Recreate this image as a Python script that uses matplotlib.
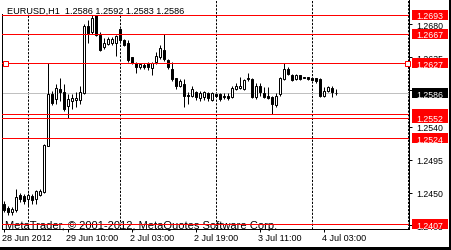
import matplotlib
matplotlib.use("Agg")
import matplotlib.pyplot as plt
import matplotlib.transforms as mtransforms
from matplotlib.patches import Rectangle
import numpy as np

plt.rcParams['font.family'] = ['Liberation Sans', 'DejaVu Sans']

# ==========================
# DATA  (EURUSD H1, bar 0 = 28 Jun 2012 18:00)
# ==========================

opens = [1.2435, 1.2429, 1.2423, 1.2426, 1.2447, 1.2445, 1.2441, 1.2445, 1.2441, 1.2447,
         1.2451, 1.2514, 1.2585, 1.2578, 1.2592, 1.2588, 1.2568, 1.2575, 1.2577, 1.2577,
         1.2586, 1.2678, 1.2669, 1.2692, 1.2665, 1.2649, 1.2653, 1.2654, 1.2655, 1.2673,
         1.2658, 1.2655, 1.2635, 1.2627, 1.2621, 1.2624, 1.2627, 1.2620, 1.2628, 1.2635,
         1.2645, 1.2631, 1.2619, 1.2607, 1.2595, 1.2598, 1.2583, 1.2582, 1.2587, 1.2579,
         1.2580, 1.2586, 1.2576, 1.2585, 1.2584, 1.2582, 1.2582, 1.2580, 1.2591, 1.2593,
         1.2591, 1.2605, 1.2605, 1.2580, 1.2596, 1.2586, 1.2582, 1.2581, 1.2570, 1.2585,
         1.2605, 1.2619, 1.2611, 1.2605, 1.2610, 1.2608, 1.2608, 1.2607, 1.2607, 1.2605,
         1.2582, 1.2589, 1.2593, 1.2586]

highs = [1.2438, 1.2431, 1.2430, 1.2455, 1.2449, 1.2448, 1.2450, 1.2448, 1.2453, 1.2455,
         1.2516, 1.2627, 1.2589, 1.2598, 1.2607, 1.2598, 1.2585, 1.2585, 1.2587, 1.2596,
         1.2681, 1.2686, 1.2693, 1.2693, 1.2669, 1.2661, 1.2662, 1.2663, 1.2665, 1.2673,
         1.2660, 1.2658, 1.2635, 1.2628, 1.2627, 1.2627, 1.2629, 1.2629, 1.2642, 1.2651,
         1.2667, 1.2632, 1.2628, 1.2607, 1.2605, 1.2605, 1.2587, 1.2596, 1.2589, 1.2589,
         1.2589, 1.2587, 1.2587, 1.2586, 1.2586, 1.2586, 1.2586, 1.2595, 1.2600, 1.2608,
         1.2605, 1.2613, 1.2607, 1.2600, 1.2600, 1.2594, 1.2594, 1.2582, 1.2586, 1.2608,
         1.2627, 1.2621, 1.2612, 1.2612, 1.2611, 1.2608, 1.2608, 1.2608, 1.2607, 1.2607,
         1.2594, 1.2596, 1.2595, 1.2592]

lows = [1.2423, 1.2419, 1.2420, 1.2424, 1.2437, 1.2434, 1.2432, 1.2434, 1.2434, 1.2445,
        1.2450, 1.2514, 1.2569, 1.2571, 1.2575, 1.2562, 1.2552, 1.2564, 1.2567, 1.2571,
        1.2585, 1.2655, 1.2667, 1.2664, 1.2643, 1.2646, 1.2651, 1.2652, 1.2637, 1.2655,
        1.2650, 1.2628, 1.2626, 1.2613, 1.2619, 1.2619, 1.2617, 1.2610, 1.2626, 1.2632,
        1.2630, 1.2619, 1.2603, 1.2592, 1.2594, 1.2567, 1.2571, 1.2580, 1.2576, 1.2575,
        1.2576, 1.2575, 1.2575, 1.2581, 1.2575, 1.2578, 1.2576, 1.2579, 1.2590, 1.2591,
        1.2590, 1.2603, 1.2579, 1.2578, 1.2582, 1.2579, 1.2578, 1.2557, 1.2567, 1.2582,
        1.2604, 1.2610, 1.2603, 1.2604, 1.2604, 1.2606, 1.2604, 1.2604, 1.2600, 1.2581,
        1.2580, 1.2588, 1.2581, 1.2583]

closes = [1.2426, 1.2424, 1.2427, 1.2444, 1.2441, 1.2439, 1.2447, 1.2440, 1.2452, 1.2452,
          1.2515, 1.2585, 1.2573, 1.2593, 1.2588, 1.2564, 1.2578, 1.2579, 1.2579, 1.2588,
          1.2677, 1.2668, 1.2688, 1.2665, 1.2645, 1.2654, 1.2660, 1.2660, 1.2664, 1.2658,
          1.2652, 1.2631, 1.2627, 1.2621, 1.2626, 1.2622, 1.2621, 1.2627, 1.2636, 1.2648,
          1.2632, 1.2621, 1.2605, 1.2596, 1.2602, 1.2582, 1.2582, 1.2591, 1.2580, 1.2586,
          1.2587, 1.2579, 1.2586, 1.2582, 1.2578, 1.2580, 1.2579, 1.2593, 1.2596, 1.2596,
          1.2604, 1.2607, 1.2580, 1.2596, 1.2587, 1.2580, 1.2579, 1.2571, 1.2582, 1.2607,
          1.2619, 1.2612, 1.2604, 1.2610, 1.2605, 1.2607, 1.2605, 1.2604, 1.2603, 1.2582,
          1.2589, 1.2594, 1.2588, 1.2586]

levels = [1.2693, 1.2667, 1.2627, 1.2557, 1.2552, 1.2524, 1.2407]
selected_level = 1.2627
bid = 1.2586

price_ticks = [1.2680, 1.2635, 1.2590, 1.2540, 1.2495, 1.2450, 1.2405]
time_tick_bars = [0, 16, 32, 48, 64, 80]
time_tick_labels = ["28 Jun 2012", "29 Jun 10:00", "2 Jul 03:00",
                    "2 Jul 19:00", "3 Jul 11:00", "4 Jul 03:00"]
day_start_bars = [6, 29, 53, 77, 101]

title = "EURUSD,H1  1.2586 1.2592 1.2583 1.2586"
watermark = "MetaTrader, \u00a9 2001-2012, MetaQuotes Software Corp."

# ==========================
# FIGURE
# ==========================

W, H = 451, 251
fig = plt.figure(figsize=(W / 100, H / 100), dpi=100)
fig.patch.set_facecolor("white")
ax = fig.add_axes([2 / W, 21 / H, 407 / W, 230 / H])

# image-pixel transform (y down) for the window decoration
px = mtransforms.Affine2D().scale(1 / W, -1 / H).translate(0, 1) + fig.transFigure

y_top, y_bot = 1.27145, 1.24002
ax.set_ylim(y_bot, y_top)
ax.set_xlim(-0.375, 101.375)
pp = (y_top - y_bot) / 230.0  # price per pixel

o = np.array(opens)
h = np.array(highs)
l = np.array(lows)
c = np.array(closes)
bars = np.arange(len(o))
up = c >= o

# candles
ax.vlines(bars, l, h, color="black", lw=0.72, zorder=3)
lo = np.minimum(o, c)
hgt = np.abs(c - o)
ax.bar(bars[up], hgt[up], bottom=lo[up], width=0.5, color="white",
       edgecolor="black", lw=0.72, zorder=4)
ax.bar(bars[~up], hgt[~up], bottom=lo[~up], width=0.5, color="black",
       edgecolor="black", lw=0.72, zorder=4)

# day separators
for b in day_start_bars:
    ax.axvline(b, color="black", lw=0.72, ls=(0, (2.2, 1.45)), zorder=1)

# bid line
ax.axhline(bid, color="#c0c0c0", lw=0.72, zorder=2)

# horizontal lines
for lv in levels:
    ax.axhline(lv, color="red", lw=0.72, zorder=5)

blend = mtransforms.blended_transform_factory(ax.transAxes, ax.transData)
ax.plot([0.0074, 0.9939], [selected_level, selected_level], transform=blend,
        ls="none", marker="s", ms=3.6, mfc="white", mec="red", mew=0.72,
        clip_on=False, zorder=7)

# price boxes on the scale (later ones drawn on top)
box_x0 = (411.7 - 2) / 407
box_w = 36.0 / 407
txt_x = (416.5 - 2) / 407
boxes = [(v, "red") for v in levels] + [(bid, "black")]
for k, (lv, fc) in enumerate(boxes):
    z = 8 + 2 * k
    ax.add_patch(Rectangle((box_x0, lv - 4.8 * pp), box_w, 9.8 * pp,
                           transform=blend, facecolor=fc, edgecolor="none",
                           clip_on=False, zorder=z))
    ax.text(txt_x, lv, f"{lv:.4f}", transform=blend, color="white",
            fontsize=6.3, ha="left", va="center_baseline", zorder=z + 1)

# axes styling
for s in ["left", "right", "bottom"]:
    ax.spines[s].set_linewidth(0.72)
    ax.spines[s].set_color("black")
ax.spines["top"].set_visible(False)

ax.yaxis.tick_right()
ax.set_yticks(price_ticks)
ax.set_yticklabels([f"{t:.4f}" for t in price_ticks])
ax.tick_params(axis="y", which="both", left=False, right=True, length=2.2,
               width=0.72, pad=3.2, labelsize=6.3, colors="black")

ax.set_xticks(time_tick_bars)
ax.set_xticklabels(time_tick_labels, ha="left")
ax.tick_params(axis="x", length=2.2, width=0.72, pad=0.8, labelsize=6.5)
shift = mtransforms.ScaledTranslation(-1.5 / 100, 0, fig.dpi_scale_trans)
for lab in ax.get_xticklabels():
    lab.set_transform(lab.get_transform() + shift)

# watermark and header
ax.text(4.7, 229.5, watermark, transform=px, fontsize=8, color="black",
        ha="left", va="baseline", zorder=1.5)
fig.add_artist(Rectangle((0, 0), 188, 15.0, transform=px, facecolor="white",
                         edgecolor="none", zorder=1))
fig.text(6.7, 14.0, title, transform=px, fontsize=6.6, color="black",
         ha="left", va="baseline", zorder=2)

# window frame shadow
fig.add_artist(Rectangle((0, 247.7), W, 3.3, transform=px, facecolor="black",
                         edgecolor="none", zorder=3))
fig.add_artist(Rectangle((448.7, 0), 2.3, H, transform=px, facecolor="black",
                         edgecolor="none", zorder=3))

fig.savefig("out.png", dpi=100)
plt.close(fig)
